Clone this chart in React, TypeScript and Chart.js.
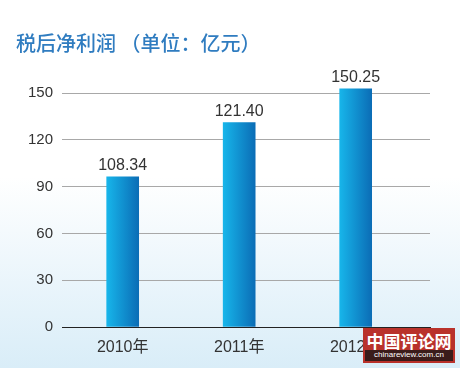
import React, { useEffect, useRef } from 'react';
import { Chart, registerables } from 'chart.js';

Chart.register(...registerables);

const titleText = '税后净利润 （单位：亿元）';
const categories = ['2010年', '2011年', '2012年'];
const profitLabels = [108.34, 121.4, 150.25];
const barHeights = [96.3, 131.0, 152.6];
const yTicks = [0, 30, 60, 90, 120, 150];

const FAMILY = '"Liberation Sans", Arial, "Noto Sans CJK SC", sans-serif';

export default function App() {
  const ref = useRef<HTMLCanvasElement>(null);

  useEffect(() => {
    const canvas = ref.current!;
    const barWidth = 32;

    const gradFor = (c: any) => {
      const chart = c.chart;
      const xs = chart.scales && chart.scales.x;
      if (!xs || c.dataIndex === undefined || !chart.chartArea) return '#1590d4';
      const cx = xs.getPixelForValue(c.dataIndex);
      const g = chart.ctx.createLinearGradient(cx - barWidth / 2, 0, cx + barWidth / 2, 0);
      g.addColorStop(0, '#17b5ea');
      g.addColorStop(1, '#0b6db6');
      return g;
    };

    const labelPlugin = {
      id: 'valueLabels',
      afterDatasetsDraw(chart: any) {
        const ctx = chart.ctx;
        const meta = chart.getDatasetMeta(0);
        ctx.save();
        ctx.font = '16px ' + FAMILY;
        ctx.fillStyle = '#333333';
        ctx.textAlign = 'center';
        ctx.textBaseline = 'alphabetic';
        meta.data.forEach((el: any, i: number) => {
          ctx.fillText(profitLabels[i].toFixed(2), el.x, el.y - 6.5);
        });
        ctx.font = '500 20px "Noto Sans CJK SC", sans-serif';
        ctx.fillStyle = '#2f7cc0';
        ctx.textAlign = 'left';
        ctx.textBaseline = 'middle';
        ctx.fillText(titleText, 16, 43);
        ctx.restore();
      },
    };

    const chart = new Chart(canvas, {
      type: 'bar',
      data: {
        datasets: [
          {
            data: barHeights.map((v, i) => ({ x: i, y: v })),
            backgroundColor: gradFor as any,
            borderWidth: 0,
            barThickness: barWidth,
          },
        ],
      },
      options: {
        animation: false,
        responsive: false,
        layout: { padding: { top: 77.4, right: 30, left: 0, bottom: 0 } },
        plugins: {
          legend: { display: false },
          tooltip: { enabled: false },
          title: { display: false },
        },
        scales: {
          x: {
            type: 'linear',
            offset: false,
            min: -0.521,
            max: 2.638,
            afterBuildTicks: (s: any) => {
              s.ticks = categories.map((_, i) => ({ value: i }));
            },
            afterFit: (s: any) => {
              s.height = 41;
            },
            grid: { display: false, drawTicks: false, offset: false },
            border: { display: true, color: '#222222', width: 1 },
            ticks: {
              padding: 11,
              color: '#333333',
              font: { size: 16, family: FAMILY },
              maxRotation: 0,
              autoSkip: false,
              callback: (v: any) => categories[v] ?? '',
            },
          },
          y: {
            min: 0,
            max: 160,
            afterBuildTicks: (s: any) => {
              s.ticks = yTicks.map((v) => ({ value: v }));
            },
            afterFit: (s: any) => {
              s.width = 62;
            },
            border: { display: false },
            grid: {
              drawTicks: false,
              lineWidth: 1,
              color: (c: any) => (c.tick && c.tick.value === 0 ? 'rgba(0,0,0,0)' : '#a8a8a8'),
            },
            ticks: {
              padding: 9,
              color: '#333333',
              font: { size: 15, family: FAMILY },
            },
          },
        },
      },
      plugins: [labelPlugin],
    } as any);

    return () => chart.destroy();
  }, []);

  return (
    <div
      style={{
        position: 'absolute',
        left: 0,
        top: 0,
        width: 460,
        height: 368,
        overflow: 'hidden',
        background: 'linear-gradient(to bottom, #ffffff 0%, #ffffff 48%, #d9edf8 100%)',
      }}
    >
      <canvas
        ref={ref}
        width={460}
        height={368}
        style={{ position: 'absolute', left: 0, top: 0, width: 460, height: 368, display: 'block' }}
      />
      <div
        style={{
          position: 'absolute',
          left: 363,
          top: 328,
          width: 92,
          height: 35,
          background: '#b9322b',
          boxSizing: 'border-box',
          padding: '0 2px',
        }}
      >
        <div
          style={{
            height: 22,
            lineHeight: '22px',
            color: '#ffffff',
            font: 'bold 17px "Noto Sans CJK SC", sans-serif',
            textAlign: 'center',
            letterSpacing: 0,
          }}
        >
          中国评论网
        </div>
        <div
          style={{
            height: 11,
            lineHeight: '11px',
            background: '#3a1c1a',
            color: '#ffffff',
            font: '8px "Liberation Sans", Arial, sans-serif',
            textAlign: 'center',
          }}
        >
          chinareview.com.cn
        </div>
      </div>
    </div>
  );
}
